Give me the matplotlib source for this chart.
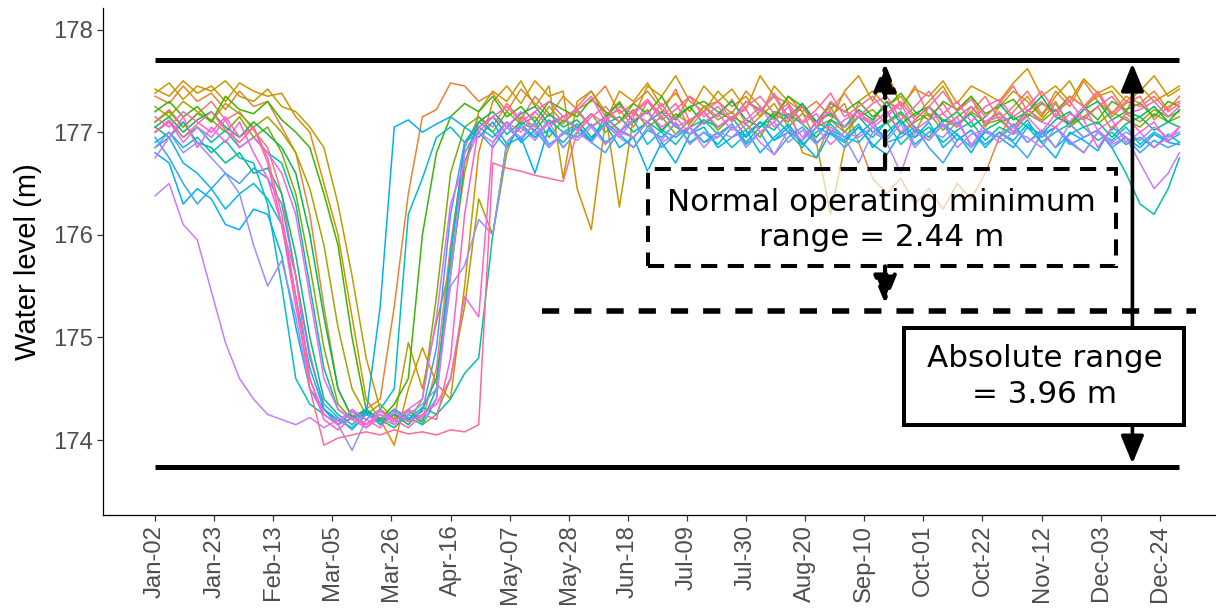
import matplotlib
matplotlib.use("Agg")
import matplotlib.pyplot as plt
from matplotlib.patches import Rectangle

# ---------------- data ----------------
# sample days (day of leap year, Jan 1 = 1), every 5 days from Jan 2, plus Dec 31
days = [2 + 5 * k for k in range(73)] + [366]

tick_days = [2, 23, 44, 65, 86, 107, 128, 149, 170, 191, 212, 233, 254, 275, 296, 317, 338, 359]
tick_labels = ["Jan-02", "Jan-23", "Feb-13", "Mar-05", "Mar-26", "Apr-16", "May-07", "May-28",
               "Jun-18", "Jul-09", "Jul-30", "Aug-20", "Sep-10", "Oct-01", "Oct-22", "Nov-12",
               "Dec-03", "Dec-24"]

abs_max = 177.70
abs_min = 173.74
normal_min = 175.26

s00 = [177.10, 177.22, 177.05, 177.18, 177.30, 177.12, 177.20, 177.02, 176.85, 176.40,
       175.60, 174.85, 174.30, 174.18, 174.25, 174.12, 174.22, 174.15, 174.28, 174.20,
       174.70, 175.90, 176.85, 177.15, 177.05, 177.28, 177.12, 177.35, 177.18, 177.08,
       177.25, 177.40, 177.15, 177.22, 177.05, 177.30, 177.18, 177.42, 177.10, 177.25,
       177.15, 177.32, 177.08, 177.20, 177.35, 177.12, 177.28, 177.05, 177.22, 177.38,
       177.18, 177.10, 177.30, 177.22, 177.45, 177.15, 177.28, 177.08, 177.20, 177.35,
       177.12, 177.25, 177.40, 177.18, 177.30, 177.05, 177.22, 177.38, 177.15, 177.28,
       177.35, 177.12, 177.25, 177.30]
s01 = [177.35, 177.28, 177.45, 177.30, 177.38, 177.22, 177.40, 177.25, 177.30, 177.05,
       176.80, 176.20, 175.30, 174.50, 174.22, 174.30, 174.40, 175.30, 176.40, 177.15,
       177.22, 177.48, 177.45, 177.30, 177.38, 177.20, 177.42, 177.28, 177.15, 177.35,
       177.22, 177.30, 177.45, 177.18, 177.28, 177.40, 177.22, 177.12, 177.35, 177.25,
       177.30, 177.18, 177.40, 177.25, 177.12, 177.35, 177.20, 177.30, 177.15, 177.28,
       176.90, 176.55, 176.40, 176.55, 176.30, 176.45, 176.25, 176.50, 176.35, 176.60,
       176.95, 177.20, 177.35, 177.15, 177.40, 177.25, 177.50, 177.30, 177.18, 177.35,
       177.28, 177.40, 177.22, 177.35]
s02 = [177.42, 177.35, 177.50, 177.38, 177.45, 177.30, 177.48, 177.40, 177.35, 177.38,
       177.15, 177.00, 176.50, 176.00, 175.20, 174.40, 174.20, 173.95, 174.50, 174.90,
       174.55, 174.40, 175.50, 176.80, 177.30, 177.45, 177.28, 177.50, 177.35, 177.40,
       176.45, 176.05, 177.10, 177.40, 177.30, 177.48, 177.25, 177.38, 177.20, 177.45,
       177.30, 177.42, 177.22, 177.55, 177.35, 177.28, 176.80, 176.75, 177.10, 177.40,
       177.55, 177.30, 177.60, 177.25, 177.42, 177.35, 177.50, 177.28, 177.45, 177.38,
       177.30, 177.48, 177.62, 177.35, 177.45, 177.30, 177.52, 177.38, 177.45, 177.30,
       177.40, 177.55, 177.35, 177.42]
s03 = [177.38, 177.48, 177.32, 177.45, 177.40, 177.50, 177.35, 177.30, 177.42, 177.25,
       177.20, 177.05, 176.85, 176.30, 175.60, 174.80, 174.30, 174.20, 174.95, 174.50,
       175.15, 175.70, 176.60, 177.20, 177.40, 177.30, 177.50, 177.25, 177.45, 176.55,
       177.30, 177.40, 177.20, 176.27, 177.15, 177.45, 177.35, 177.55, 177.30, 177.20,
       177.40, 177.25, 177.35, 177.15, 177.45, 177.30, 177.20, 176.90, 176.20, 176.85,
       177.30, 177.40, 177.25, 177.35, 177.15, 177.30, 177.45, 177.20, 177.35, 177.05,
       177.25, 177.40, 177.30, 177.15, 177.35, 177.50, 177.25, 177.35, 177.40, 177.20,
       177.45, 177.30, 177.38, 177.45]
s04 = [177.25, 177.15, 177.30, 177.20, 177.10, 177.28, 177.18, 177.05, 177.15, 177.00,
       176.80, 176.45, 175.90, 175.10, 174.50, 174.25, 174.35, 174.20, 174.30, 174.15,
       174.25, 174.60, 175.30, 176.35, 176.00, 176.80, 177.15, 177.05, 177.25, 177.10,
       177.20, 177.05, 177.15, 177.30, 177.10, 177.22, 177.00, 177.18, 177.08, 177.25,
       177.12, 177.20, 177.02, 177.15, 177.28, 177.05, 177.18, 177.10, 177.25, 177.00,
       177.15, 177.22, 177.08, 177.18, 177.00, 177.25, 177.12, 177.05, 177.20, 177.10,
       177.18, 177.05, 177.22, 177.12, 177.28, 177.08, 177.15, 177.25, 177.02, 177.18,
       177.10, 177.22, 177.15, 177.20]
s05 = [177.10, 177.20, 177.05, 177.18, 177.12, 177.00, 177.15, 176.95, 177.05, 176.80,
       176.40, 175.70, 174.90, 174.35, 174.20, 174.28, 174.15, 174.25, 174.18, 174.40,
       175.40, 176.60, 177.05, 177.15, 177.00, 177.20, 177.08, 177.15, 176.95, 177.12,
       177.05, 177.18, 177.00, 177.10, 177.22, 177.05, 177.15, 176.98, 177.12, 177.20,
       177.02, 177.15, 177.08, 176.95, 177.18, 177.10, 177.25, 177.05, 177.12, 177.00,
       177.15, 177.08, 177.20, 176.98, 177.10, 177.18, 177.02, 177.15, 177.25, 177.08,
       177.12, 177.00, 177.18, 177.10, 177.22, 177.05, 177.15, 177.08, 177.20, 177.12,
       177.05, 177.18, 177.10, 177.15]
s06 = [177.20, 177.30, 177.15, 177.25, 177.10, 177.35, 177.22, 177.18, 177.30, 177.12,
       177.00, 176.85, 176.40, 175.90, 175.00, 174.30, 174.20, 174.35, 174.60, 176.00,
       176.80, 177.15, 177.28, 177.20, 177.35, 177.15, 177.25, 177.10, 177.30, 177.22,
       177.15, 177.32, 177.20, 177.10, 177.28, 177.18, 177.35, 177.12, 177.25, 177.30,
       177.20, 177.12, 177.30, 177.22, 177.15, 177.35, 177.25, 177.10, 177.28, 177.20,
       177.30, 177.15, 177.25, 177.38, 177.20, 177.12, 177.30, 177.22, 177.35, 177.18,
       177.25, 177.32, 177.15, 177.28, 177.20, 177.35, 177.25, 177.12, 177.30, 177.22,
       177.28, 177.15, 177.30, 177.25]
s07 = [177.05, 177.15, 177.00, 177.12, 177.20, 177.05, 176.95, 177.10, 176.98, 176.85,
       176.60, 176.00, 175.20, 174.50, 174.22, 174.30, 174.18, 174.25, 174.15, 174.30,
       174.60, 175.60, 176.70, 177.10, 177.20, 177.05, 177.18, 177.25, 177.08, 177.15,
       177.22, 177.05, 177.15, 177.28, 177.10, 177.20, 177.02, 177.15, 177.25, 177.08,
       177.18, 177.30, 177.12, 177.05, 177.20, 177.15, 177.28, 177.10, 177.18, 177.05,
       177.22, 177.12, 177.30, 177.08, 177.18, 177.25, 177.10, 177.20, 177.05, 177.15,
       177.28, 177.12, 177.20, 177.35, 177.15, 177.08, 177.22, 177.30, 177.12, 177.20,
       177.15, 177.25, 177.10, 177.22]
s08 = [177.05, 176.95, 177.10, 176.90, 176.85, 176.70, 176.80, 176.60, 176.65, 176.40,
       175.80, 175.00, 174.40, 174.25, 174.15, 174.28, 174.20, 174.12, 174.25, 174.18,
       174.50, 175.80, 176.90, 177.05, 177.15, 176.98, 177.10, 177.02, 177.18, 177.05,
       177.12, 176.95, 177.08, 177.15, 177.00, 177.10, 177.20, 177.05, 176.98, 177.12,
       177.05, 177.15, 176.95, 177.10, 177.02, 177.18, 177.08, 176.95, 177.12, 177.05,
       177.15, 177.00, 177.10, 177.20, 177.05, 176.95, 177.12, 177.08, 177.18, 177.02,
       177.10, 177.15, 177.05, 176.98, 177.12, 177.20, 177.05, 177.10, 176.95, 177.08,
       177.15, 177.02, 177.10, 177.05]
s09 = [177.00, 177.10, 176.95, 177.05, 176.90, 177.02, 176.85, 176.95, 176.80, 176.70,
       176.30, 175.50, 174.70, 174.30, 174.20, 174.30, 174.15, 174.25, 174.20, 174.32,
       174.25, 174.40, 174.65, 174.80, 176.00, 176.90, 177.05, 176.95, 177.12, 177.00,
       177.08, 176.92, 177.15, 177.02, 176.95, 177.10, 177.00, 176.88, 177.05, 177.12,
       176.98, 177.08, 176.90, 177.05, 177.15, 177.00, 176.92, 177.10, 177.02, 176.95,
       177.08, 176.85, 177.00, 177.12, 176.95, 177.05, 176.90, 177.02, 177.10, 176.92,
       177.05, 176.98, 177.12, 176.90, 177.00, 177.08, 176.95, 177.02, 176.85, 176.60,
       176.30, 176.20, 176.45, 176.75]
s10 = [176.90, 177.00, 176.85, 176.95, 176.80, 176.92, 176.75, 176.70, 176.30, 175.50,
       174.60, 174.35, 174.25, 174.15, 174.28, 174.20, 174.30, 174.50, 176.20, 176.55,
       176.95, 177.05, 176.90, 177.10, 177.00, 176.85, 177.08, 176.95, 177.02, 176.90,
       177.05, 176.92, 177.10, 176.98, 176.85, 177.02, 176.95, 177.08, 176.90, 177.00,
       176.88, 177.05, 176.95, 177.10, 176.92, 177.00, 176.85, 177.05, 176.98, 176.90,
       177.05, 176.95, 177.10, 176.88, 177.02, 176.92, 177.08, 176.98, 176.85, 177.00,
       176.95, 177.08, 176.90, 177.02, 176.85, 176.98, 177.05, 176.92, 177.00, 176.88,
       176.95, 176.85, 176.98, 176.90]
s11 = [176.85, 176.95, 176.70, 176.60, 176.45, 176.25, 176.40, 176.50, 176.35, 176.10,
       175.40, 174.70, 174.30, 174.20, 174.12, 174.25, 174.18, 174.30, 174.22, 174.15,
       174.40, 175.80, 176.80, 177.05, 176.95, 177.10, 176.90, 177.02, 176.85, 177.00,
       176.95, 177.08, 176.90, 177.00, 177.12, 176.88, 177.02, 176.95, 177.05, 176.90,
       177.00, 176.85, 176.98, 177.10, 176.92, 177.05, 176.88, 177.00, 177.08, 176.95,
       176.90, 177.05, 176.95, 177.12, 176.88, 177.00, 177.08, 176.92, 177.02, 176.85,
       177.00, 176.92, 177.08, 176.95, 177.05, 176.90, 176.80, 177.00, 176.92, 177.05,
       176.88, 177.00, 176.92, 176.98]
s12 = [176.80, 176.70, 176.30, 176.45, 176.35, 176.10, 176.05, 176.25, 176.20, 175.80,
       175.10, 174.50, 174.30, 174.15, 174.22, 174.25, 175.30, 177.05, 177.12, 177.00,
       177.08, 177.15, 177.05, 176.95, 177.10, 176.88, 176.95, 176.60, 177.05, 176.85,
       177.00, 176.92, 177.08, 176.85, 176.95, 176.62, 176.90, 176.70, 176.98, 177.05,
       176.85, 176.95, 177.02, 176.80, 176.95, 177.08, 176.90, 176.75, 177.00, 176.92,
       177.05, 176.88, 176.78, 177.00, 176.95, 177.10, 176.85, 176.98, 176.80, 177.02,
       176.95, 176.85, 177.05, 176.90, 176.75, 177.00, 176.92, 176.82, 177.05, 176.95,
       176.85, 176.98, 176.90, 176.88]
s13 = [176.95, 176.75, 176.50, 176.30, 176.45, 176.60, 176.50, 176.65, 176.55, 176.30,
       175.60, 174.80, 174.35, 174.22, 174.10, 174.25, 174.18, 174.30, 174.20, 174.28,
       174.90, 176.20, 176.90, 177.00, 176.85, 177.05, 176.92, 177.10, 176.88, 176.98,
       177.05, 176.90, 176.80, 177.02, 176.95, 177.10, 176.85, 176.98, 177.05, 176.90,
       176.95, 177.08, 176.88, 177.00, 176.78, 176.95, 177.05, 176.90, 177.00, 176.85,
       176.98, 177.10, 176.90, 176.95, 177.05, 176.85, 176.70, 176.92, 177.02, 176.88,
       177.00, 176.90, 176.75, 176.98, 177.05, 176.88, 176.95, 177.02, 176.85, 176.95,
       176.80, 176.92, 176.85, 176.90]
s14 = [176.85, 177.00, 176.80, 176.90, 176.75, 176.60, 176.40, 175.90, 175.50, 175.75,
       175.20, 174.50, 174.25, 174.15, 173.90, 174.20, 174.30, 174.15, 174.25, 174.35,
       174.50, 175.50, 175.70, 176.15, 176.00, 176.90, 177.05, 176.92, 177.10, 176.85,
       177.00, 176.90, 177.08, 176.95, 176.85, 177.05, 176.92, 177.10, 176.88, 177.00,
       176.95, 177.08, 176.85, 177.00, 177.10, 176.90, 177.02, 176.88, 177.05, 176.95,
       176.70, 177.00, 176.92, 177.08, 176.85, 177.00, 176.95, 177.10, 176.88, 177.02,
       176.95, 177.05, 176.90, 177.00, 176.85, 177.08, 176.95, 177.02, 176.90, 177.00,
       176.92, 177.05, 176.95, 177.00]
s15 = [176.38, 176.50, 176.10, 175.95, 175.45, 174.95, 174.60, 174.40, 174.25, 174.20,
       174.15, 174.22, 174.12, 174.20, 174.28, 174.15, 174.25, 174.18, 174.30, 174.22,
       174.40, 175.60, 176.80, 177.00, 176.90, 177.05, 176.95, 177.08, 176.85, 177.00,
       176.92, 177.05, 176.88, 177.00, 176.95, 177.10, 176.90, 176.98, 177.05, 176.85,
       177.00, 176.95, 177.08, 176.90, 176.78, 177.02, 176.92, 177.05, 176.88, 177.00,
       176.95, 177.05, 176.90, 176.60, 177.00, 176.92, 177.08, 176.85, 176.98, 177.02,
       176.90, 177.00, 176.95, 176.85, 177.05, 176.92, 176.80, 177.00, 176.88, 176.95,
       176.70, 176.45, 176.60, 176.80]
s16 = [177.00, 177.10, 176.90, 177.05, 176.95, 177.12, 176.85, 176.95, 176.80, 176.60,
       176.20, 175.40, 174.60, 174.30, 174.20, 174.12, 174.25, 174.18, 174.30, 174.40,
       175.20, 176.30, 176.70, 177.00, 177.15, 177.05, 177.20, 176.98, 177.10, 177.15,
       177.02, 177.18, 177.08, 176.95, 177.12, 177.20, 177.05, 177.15, 176.98, 177.10,
       177.18, 177.02, 177.12, 177.25, 177.05, 177.15, 176.95, 177.10, 177.20, 177.05,
       177.15, 177.08, 177.20, 177.00, 177.12, 177.25, 177.05, 177.15, 176.85, 177.10,
       177.20, 177.05, 177.15, 177.00, 177.18, 177.10, 177.25, 177.02, 177.12, 176.90,
       177.00, 176.85, 176.95, 177.05]
s17 = [176.75, 176.95, 177.15, 176.85, 177.05, 176.90, 177.10, 176.80, 176.55, 176.10,
       175.30, 174.60, 174.25, 174.15, 174.30, 174.20, 174.12, 174.28, 174.18, 174.25,
       174.35, 174.60, 175.40, 175.20, 176.90, 177.10, 177.00, 177.20, 177.05, 177.15,
       177.22, 177.05, 177.15, 177.00, 177.18, 177.10, 177.28, 177.05, 177.12, 177.20,
       177.05, 177.15, 177.22, 177.00, 177.10, 177.25, 177.08, 177.18, 177.00, 177.12,
       177.20, 177.05, 177.15, 177.28, 177.02, 177.12, 177.18, 177.05, 177.25, 177.10,
       177.15, 177.00, 177.22, 177.10, 177.05, 177.18, 177.12, 176.85, 177.05, 177.15,
       177.00, 177.10, 176.90, 177.05]
s18 = [177.15, 177.05, 177.20, 177.10, 177.00, 177.15, 176.95, 177.05, 176.70, 176.10,
       175.60, 174.60, 174.20, 174.10, 174.22, 174.15, 174.28, 174.20, 174.12, 174.25,
       174.20, 174.80, 176.20, 177.05, 177.15, 177.25, 177.10, 177.20, 177.30, 177.15,
       177.22, 177.35, 177.10, 177.25, 177.18, 177.30, 177.12, 177.22, 177.35, 177.15,
       177.25, 177.10, 177.30, 177.20, 177.38, 177.15, 177.25, 177.05, 177.30, 177.20,
       177.15, 177.28, 177.35, 177.12, 177.25, 177.40, 177.18, 177.30, 177.10, 177.25,
       177.32, 177.15, 177.25, 177.40, 177.20, 177.30, 177.12, 177.25, 177.35, 177.18,
       177.22, 177.30, 177.15, 177.25]
s19 = [177.00, 177.12, 176.95, 177.08, 177.20, 177.02, 176.90, 177.05, 176.75, 176.20,
       175.40, 174.50, 173.95, 174.02, 174.05, 174.08, 174.05, 174.10, 174.06, 174.08,
       174.05, 174.10, 174.08, 174.15, 176.70, 176.65, 176.62, 176.58, 176.55, 176.52,
       177.00, 177.15, 177.25, 177.10, 177.20, 177.32, 177.15, 177.28, 177.05, 177.20,
       177.30, 177.12, 177.25, 177.35, 177.18, 177.28, 177.10, 177.22, 177.38, 177.15,
       177.25, 177.35, 177.18, 177.30, 177.12, 177.25, 177.40, 177.20, 177.32, 177.15,
       177.28, 177.45, 177.20, 177.30, 177.15, 177.35, 177.25, 177.40, 177.18, 177.30,
       177.25, 177.35, 177.20, 177.28]

series = [s00, s01, s02, s03, s04, s05, s06, s07, s08, s09,
          s10, s11, s12, s13, s14, s15, s16, s17, s18, s19]

# ggplot2 default hue palette for 20 groups
colors = ["#F8766D", "#EA8331", "#D89000", "#C09B00", "#A3A500", "#7CAE00", "#39B600",
          "#00BB4E", "#00BF7D", "#00C1A3", "#00BFC4", "#00BAE0", "#00B0F6", "#35A2FF",
          "#9590FF", "#C77CFF", "#E76BF3", "#FA62DB", "#FF62BC", "#FF6C91"]

# ---------------- figure ----------------
W, H = 1216, 613
fig = plt.figure(figsize=(W / 100, H / 100), dpi=100)
ax = fig.add_axes([103 / W, 1 - 515 / H, (W - 103) / W, (515 - 8) / H])

for vals, c in zip(series, colors):
    ax.plot(days, vals, color=c, lw=1.1, zorder=2)

# reference lines
ax.plot([2, 366], [abs_max, abs_max], color="black", lw=3.6, zorder=3, solid_capstyle="butt")
ax.plot([2, 366], [abs_min, abs_min], color="black", lw=3.6, zorder=3, solid_capstyle="butt")
ax.plot([139.5, 372], [normal_min, normal_min], color="black", lw=4.0, zorder=3,
        dashes=(3.1, 2.7), dash_capstyle="butt")

# annotation boxes
box1 = (177.0, 343.3, 175.693, 176.639)
box2 = (268.2, 367.8, 174.146, 175.093)
ax.add_patch(Rectangle((box1[0], box1[2]), box1[1] - box1[0], box1[3] - box1[2],
                       facecolor=(1, 1, 1, 0.65), edgecolor="black", lw=2.9,
                       linestyle=(0, (4.0, 2.6)), zorder=4))
ax.add_patch(Rectangle((box2[0], box2[2]), box2[1] - box2[0], box2[3] - box2[2],
                       facecolor="white", edgecolor="black", lw=2.9, zorder=4))

ann_font = "DejaVu Sans"
ax.text((box1[0] + box1[1]) / 2, (box1[2] + box1[3]) / 2 - 0.02,
        "Normal operating minimum\nrange = 2.44 m", ha="center", va="center",
        fontsize=22.3, family=ann_font, linespacing=1.28, zorder=5)
ax.text((box2[0] + box2[1]) / 2, (box2[2] + box2[3]) / 2,
        "Absolute range\n= 3.96 m", ha="center", va="center",
        fontsize=22.3, family=ann_font, linespacing=1.28, zorder=5)

# arrows
x_norm = 261.4
x_abs = 349.3
arrow_kw = dict(arrowstyle="-|>,head_length=1.7,head_width=0.7", color="black",
                shrinkA=0, shrinkB=0, mutation_scale=10)
ax.annotate("", xy=(x_norm, abs_max - 0.03), xytext=(x_norm, box1[3]),
            arrowprops=dict(lw=3.0, linestyle=(0, (3.5, 2.2)), **arrow_kw), zorder=4)
ax.annotate("", xy=(x_norm, normal_min + 0.07), xytext=(x_norm, box1[2]),
            arrowprops=dict(lw=3.0, linestyle=(0, (3.5, 2.2)), **arrow_kw), zorder=4)
ax.annotate("", xy=(x_abs, abs_max - 0.03), xytext=(x_abs, box2[3]),
            arrowprops=dict(lw=2.6, **arrow_kw), zorder=4)
ax.annotate("", xy=(x_abs, abs_min + 0.03), xytext=(x_abs, box2[2]),
            arrowprops=dict(lw=2.6, **arrow_kw), zorder=4)

# axes styling (theme_classic-like)
ax.set_xlim(-16.5, 379)
ax.set_ylim(173.27, 178.21)
for s in ["top", "right"]:
    ax.spines[s].set_visible(False)
for s in ["left", "bottom"]:
    ax.spines[s].set_linewidth(0.9)
    ax.spines[s].set_color("black")

ax.set_xticks(tick_days)
ax.set_xticklabels(tick_labels, rotation=90, family="Liberation Sans")
ax.set_yticks([174, 175, 176, 177, 178])
ax.set_yticklabels(["174", "175", "176", "177", "178"], family="Liberation Sans")
ax.tick_params(axis="both", direction="out", length=4, width=0.9, color="#333333",
               labelcolor="#4D4D4D", labelsize=17.2, pad=3)
ax.set_ylabel("Water level (m)", fontsize=21, family="Liberation Sans", color="black",
              labelpad=8)

fig.savefig("out.png", dpi=100)
